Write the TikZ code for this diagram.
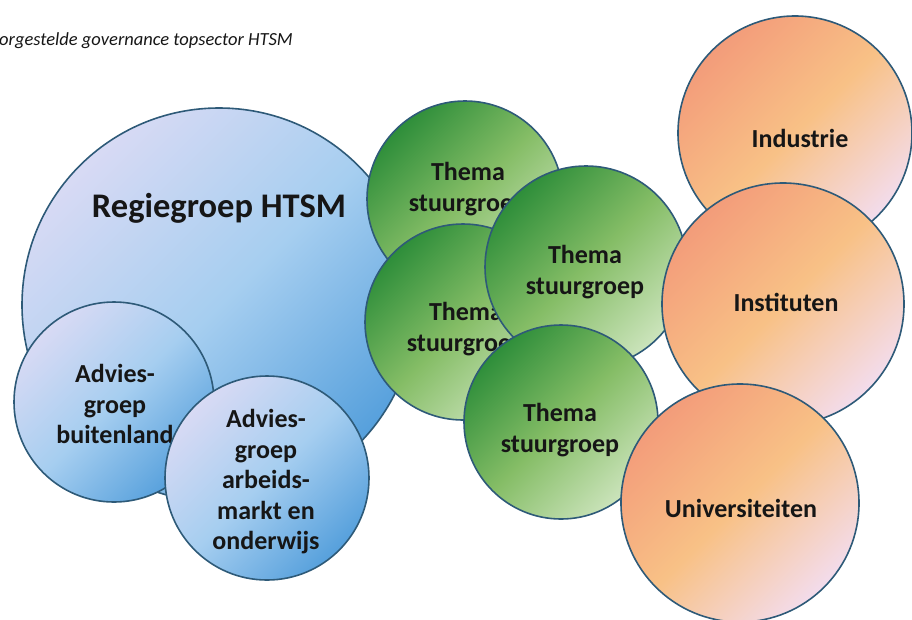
\documentclass[tikz,border=0pt]{standalone}
\usepackage{fontspec}
\setmainfont{Carlito}
\definecolor{blueA}{HTML}{D8DAF4}
\definecolor{blueB}{HTML}{A6CEF0}
\definecolor{blueC}{HTML}{56A0DC}
\definecolor{greenA}{HTML}{2E8E3A}
\definecolor{greenB}{HTML}{85BD66}
\definecolor{greenC}{HTML}{CCE4BC}
\definecolor{orangeA}{HTML}{F39C7A}
\definecolor{orangeB}{HTML}{F8C186}
\definecolor{orangeC}{HTML}{F3DCEC}
\definecolor{bordc}{HTML}{2E5A78}
\definecolor{txtc}{HTML}{161616}
\begin{document}
\begin{tikzpicture}[x=1pt,y=-1pt,
  circ/.style={circle, inner sep=0pt, draw=bordc, line width=1.6pt, minimum size=#1},
  bluec/.style={circ=#1, left color=blueA, right color=blueC, middle color=blueB, shading angle=45},
  greenc/.style={circ=#1, left color=greenA, right color=greenC, middle color=greenB, shading angle=45},
  orangec/.style={circ=#1, left color=orangeA, right color=orangeC, middle color=orangeB, shading angle=45},
  lbl/.style={font=\bfseries\fontsize{26}{30.5}\selectfont, align=center, text=txtc, inner sep=0pt},
  bigl/.style={font=\bfseries\fontsize{34.5}{40}\selectfont, text=txtc, inner sep=0pt},
  titl/.style={font=\itshape\fontsize{18.5}{22}\selectfont, text=txtc, inner sep=0pt, anchor=base west}]
\useasboundingbox (0,0) rectangle (912,619);
\node[titl] (title) at (-1,45) {orgestelde governance topsector HTSM};
% blue
\node[bluec=394pt] (regie) at (219,305) {};
\node[bigl] (regieT) at (219,208) {Regiegroep HTSM};
\node[bluec=200pt] (buit) at (114,402) {};
\node[lbl] (buitT) at (115,404) {Advies-\\groep\\buitenland};
\node[bluec=204pt] (arb) at (267,478) {};
\node[lbl] (arbT) at (266,482) {Advies-\\groep\\arbeids-\\markt en\\onderwijs};
% green
\node[greenc=196pt] (g1) at (465,199) {};
\node[lbl] (g1T) at (468,189) {Thema\\stuurgroep};
\node[greenc=196pt] (g2) at (463,322) {};
\node[lbl] (g2T) at (466,329) {Thema\\stuurgroep};
\node[greenc=202pt] (g3) at (586,267) {};
\node[lbl] (g3T) at (585,272) {Thema\\stuurgroep};
\node[greenc=194pt] (g4) at (561,422) {};
\node[lbl] (g4T) at (560,430) {Thema\\stuurgroep};
% orange
\node[orangec=234pt] (ind) at (795,133) {};
\node[lbl] (indT) at (800,138) {Industrie};
\node[orangec=242pt] (inst) at (783,304) {};
\node[lbl] (instT) at (786,302) {Instituten};
\node[orangec=238pt] (univ) at (740,503) {};
\node[lbl] (univT) at (741,508) {Universiteiten};
\end{tikzpicture}
\end{document}
